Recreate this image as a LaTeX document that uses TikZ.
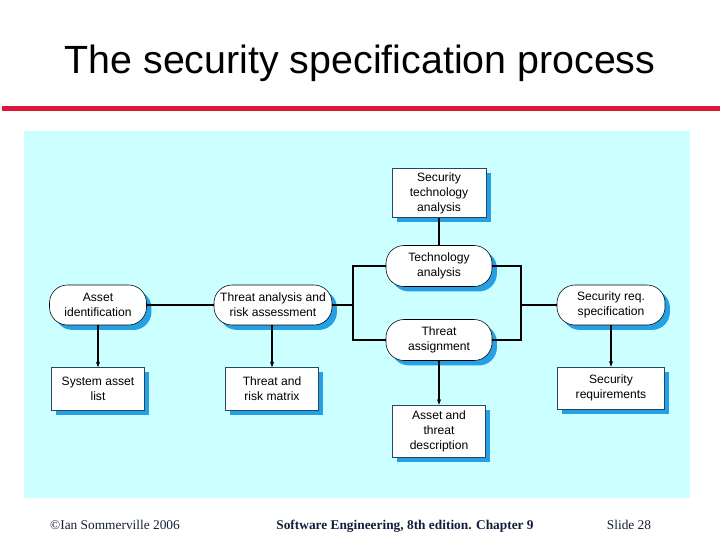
\documentclass[tikz,border=0pt]{standalone}
\usepackage{fontspec}
\setmainfont{Liberation Serif}
\setsansfont{Liberation Sans}
\usetikzlibrary{arrows.meta,shadows}

\definecolor{slidecyan}{RGB}{204,255,255}
\definecolor{slidered}{RGB}{222,22,58}
\definecolor{shadowblue}{RGB}{38,160,228}
\definecolor{edgeblue}{RGB}{40,70,100}
\definecolor{footblue}{RGB}{20,30,60}

\tikzset{
  boxfont/.style={font=\sffamily\fontsize{8.6}{10.6}\selectfont, align=center},
  roundbox/.style={boxfont, draw=black, fill=white, rounded corners=0.45cm,
    drop shadow={shadow xshift=3.5pt, shadow yshift=-3.5pt, fill=shadowblue, opacity=1},
    inner sep=1pt},
  docbox/.style={boxfont, draw=edgeblue, fill=white,
    drop shadow={shadow xshift=3.5pt, shadow yshift=-3.5pt, fill=shadowblue, opacity=1},
    inner sep=1pt},
  footer/.style={anchor=base, text=footblue, font=\fontsize{9.5}{11}\selectfont},
  flow/.style={line width=0.8pt, black},
  result/.style={flow, -{Stealth[length=4pt,width=3pt]}}
}

\begin{document}
\begin{tikzpicture}[x=0.025cm, y=-0.025cm]
    \useasboundingbox (0,0) rectangle (720,540);
    % Title and rule
    \node[font=\sffamily\fontsize{28}{32}\selectfont] (title) at (360,63) {The security specification process};
    \fill[slidered] (2,105.5) rectangle (720,110.5);
    % Background panel
    \fill[slidecyan] (24,131) rectangle (690,498);

    % Left column
    \node[roundbox, minimum width=2.425cm, minimum height=1cm] (assetid) at (98,305) {Asset\\identification};
    \node[docbox, minimum width=2.325cm, minimum height=1.075cm] (assetlist) at (98,389) {System asset\\list};
    % Threat analysis
    \node[roundbox, minimum width=2.95cm, minimum height=1cm] (threatrisk) at (273,305) {Threat analysis and\\risk assessment};
    \node[docbox, minimum width=2.325cm, minimum height=1.075cm] (matrix) at (272,389) {Threat and\\risk matrix};
    % Middle column
    \node[docbox, minimum width=2.35cm, minimum height=1.225cm] (techsec) at (439,193) {Security\\technology\\analysis};
    \node[roundbox, minimum width=2.65cm, minimum height=1.025cm] (techan) at (439,266) {Technology\\analysis};
    \node[roundbox, minimum width=2.65cm, minimum height=1.025cm] (assign) at (439,340) {Threat\\assignment};
    \node[docbox, minimum width=2.325cm, minimum height=1.3cm] (descr) at (439,431) {Asset and\\threat\\description};
    % Right column
    \node[roundbox, minimum width=2.7cm, minimum height=1cm] (reqspec) at (611,305) {Security req.\\specification};
    \node[docbox, minimum width=2.675cm, minimum height=1.05cm] (reqs) at (611,388) {Security\\requirements};

    % Branch points
    \coordinate (split) at (353,305);
    \coordinate (join) at (521,305);

    % Connectors
    \draw[flow] (assetid) -- (threatrisk);
    \draw[flow] (threatrisk.east) -- (split);
    \draw[flow] (split) |- (techan.west);
    \draw[flow] (split) |- (assign.west);
    \draw[flow] (techsec) -- (techan);
    \draw[flow] (techan.east) -| (join);
    \draw[flow] (assign.east) -| (join);
    \draw[flow] (join) -- (reqspec.west);

    % Outputs
    \draw[result] (assetid) -- (assetlist);
    \draw[result] (threatrisk.south -| matrix.north) -- (matrix);
    \draw[result] (assign) -- (descr);
    \draw[result] (reqspec) -- (reqs);

    % Footer
    \node[footer] (copy) at (115,529) {\textcopyright Ian Sommerville 2006};
    \node[footer, font=\bfseries\fontsize{9.5}{11}\selectfont] (book) at (405,529) {Software Engineering, 8th edition. Chapter 9};
    \node[footer] (slide) at (629,529) {Slide 28};
\end{tikzpicture}
\end{document}
